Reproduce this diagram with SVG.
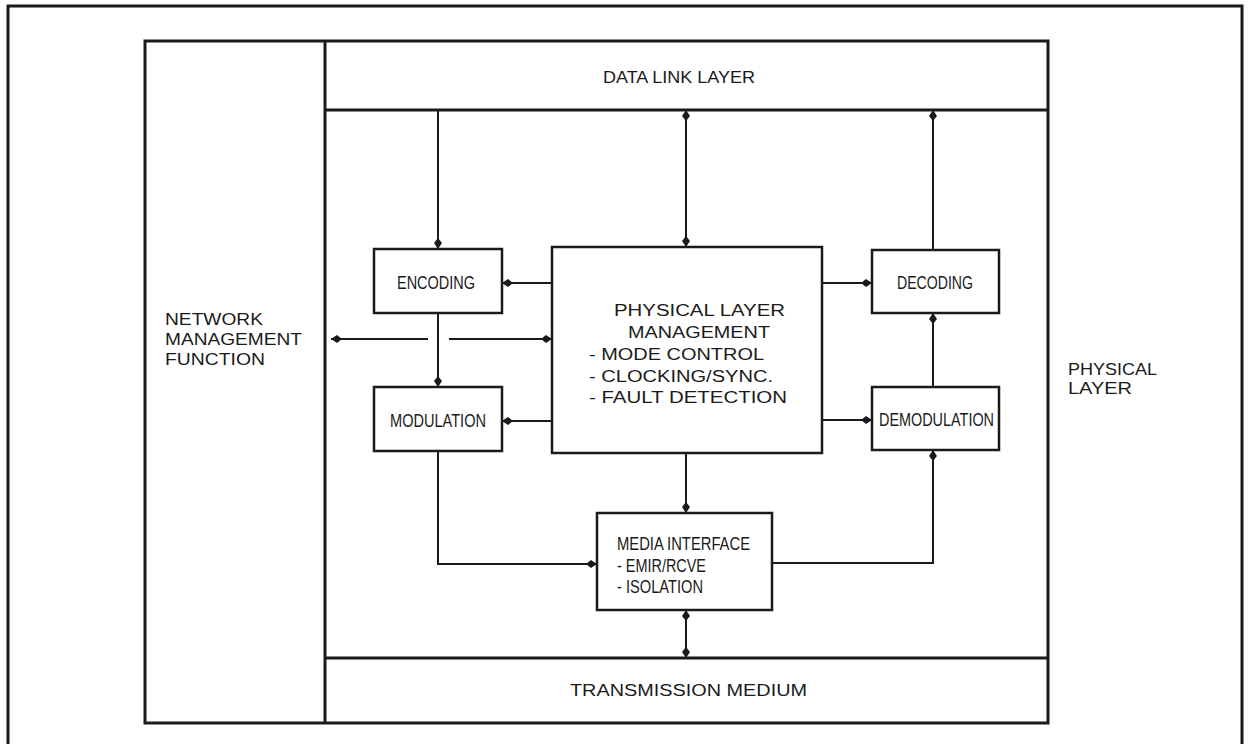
<svg xmlns="http://www.w3.org/2000/svg" width="1250" height="744" viewBox="0 0 1250 744">
<style>
.frame{fill:none;stroke:#1a1a1a;stroke-width:3}
.box{fill:#fff;stroke:#1a1a1a;stroke-width:2.5}
.conn{fill:none;stroke:#1a1a1a;stroke-width:2}
text{font-family:"Liberation Sans",Arial,sans-serif;fill:#1a1a1a}
.lbl{font-size:16.5px}
.bx{font-size:18px}
.plm{font-size:16px}
</style>
<defs>
<marker id="ah" markerUnits="userSpaceOnUse" markerWidth="14" markerHeight="10" viewBox="-12 -5 13 10" refX="0" refY="0" orient="auto-start-reverse">
<path d="M0,0 L-6,-4 L-11,0 L-6,4 z" fill="#1a1a1a"/>
</marker>
</defs>
<rect width="1250" height="744" fill="#fff"/>
<path id="outer-frame" class="frame" d="M8,746 V6 H1242 V746"/>
<g id="physical-layer-frame">
<rect class="frame" x="145" y="41" width="903" height="682"/>
<text class="lbl" x="1068" y="375" textLength="89" lengthAdjust="spacingAndGlyphs">PHYSICAL</text>
<text class="lbl" x="1068" y="394" textLength="64" lengthAdjust="spacingAndGlyphs">LAYER</text>
</g>
<g id="network-management">
<line class="frame" x1="325" y1="41" x2="325" y2="723"/>
<text class="lbl" x="165" y="325" textLength="98" lengthAdjust="spacingAndGlyphs">NETWORK</text>
<text class="lbl" x="165" y="345" textLength="137" lengthAdjust="spacingAndGlyphs">MANAGEMENT</text>
<text class="lbl" x="165" y="365" textLength="100" lengthAdjust="spacingAndGlyphs">FUNCTION</text>
</g>
<g id="data-link-layer">
<line class="frame" x1="325" y1="110" x2="1048" y2="110"/>
<text class="lbl" x="603" y="83" textLength="152" lengthAdjust="spacingAndGlyphs">DATA LINK LAYER</text>
</g>
<g id="transmission-medium">
<line class="frame" x1="325" y1="658" x2="1048" y2="658"/>
<text class="lbl" x="570" y="696" textLength="237" lengthAdjust="spacingAndGlyphs">TRANSMISSION MEDIUM</text>
</g>
<g id="connectors">
<path class="conn" d="M438,110 V249" marker-end="url(#ah)"/>
<path class="conn" d="M438,313 V387" marker-end="url(#ah)"/>
<path class="conn" d="M552,283 H502" marker-end="url(#ah)"/>
<path class="conn" d="M552,421 H502" marker-end="url(#ah)"/>
<path class="conn" d="M428,339 H331" marker-end="url(#ah)"/>
<path class="conn" d="M449,339 H552" marker-end="url(#ah)"/>
<path class="conn" d="M686,110 V247" marker-start="url(#ah)" marker-end="url(#ah)"/>
<path class="conn" d="M822,283 H872" marker-end="url(#ah)"/>
<path class="conn" d="M822,420 H872" marker-end="url(#ah)"/>
<path class="conn" d="M933,387 V313" marker-end="url(#ah)"/>
<path class="conn" d="M933,250 V110" marker-end="url(#ah)"/>
<path class="conn" d="M438,451 V564 H597" marker-end="url(#ah)"/>
<path class="conn" d="M772,563 H933 V450" marker-end="url(#ah)"/>
<path class="conn" d="M686,453 V513" marker-end="url(#ah)"/>
<path class="conn" d="M686,610 V658" marker-start="url(#ah)" marker-end="url(#ah)"/>
</g>
<g id="encoding">
<rect class="box" x="374" y="249" width="128" height="64"/>
<text class="bx" x="397" y="289" textLength="78" lengthAdjust="spacingAndGlyphs">ENCODING</text>
</g>
<g id="modulation">
<rect class="box" x="374" y="387" width="128" height="64"/>
<text class="bx" x="390" y="427" textLength="96" lengthAdjust="spacingAndGlyphs">MODULATION</text>
</g>
<g id="physical-layer-management">
<rect class="box" x="552" y="247" width="270" height="206"/>
<text class="plm" x="614" y="316" textLength="171" lengthAdjust="spacingAndGlyphs">PHYSICAL LAYER</text>
<text class="plm" x="628" y="338" textLength="142" lengthAdjust="spacingAndGlyphs">MANAGEMENT</text>
<text class="plm" x="589" y="360" textLength="175" lengthAdjust="spacingAndGlyphs">- MODE CONTROL</text>
<text class="plm" x="589" y="382" textLength="184" lengthAdjust="spacingAndGlyphs">- CLOCKING/SYNC.</text>
<text class="plm" x="589" y="403" textLength="198" lengthAdjust="spacingAndGlyphs">- FAULT DETECTION</text>
</g>
<g id="decoding">
<rect class="box" x="872" y="250" width="127" height="63"/>
<text class="bx" x="897" y="289" textLength="76" lengthAdjust="spacingAndGlyphs">DECODING</text>
</g>
<g id="demodulation">
<rect class="box" x="872" y="387" width="127" height="63"/>
<text class="bx" x="879" y="426" textLength="115" lengthAdjust="spacingAndGlyphs">DEMODULATION</text>
</g>
<g id="media-interface">
<rect class="box" x="597" y="513" width="175" height="97"/>
<text class="bx" x="617" y="550" textLength="133" lengthAdjust="spacingAndGlyphs">MEDIA INTERFACE</text>
<text class="bx" x="617" y="572" textLength="89" lengthAdjust="spacingAndGlyphs">- EMIR/RCVE</text>
<text class="bx" x="617" y="593" textLength="86" lengthAdjust="spacingAndGlyphs">- ISOLATION</text>
</g>
</svg>
